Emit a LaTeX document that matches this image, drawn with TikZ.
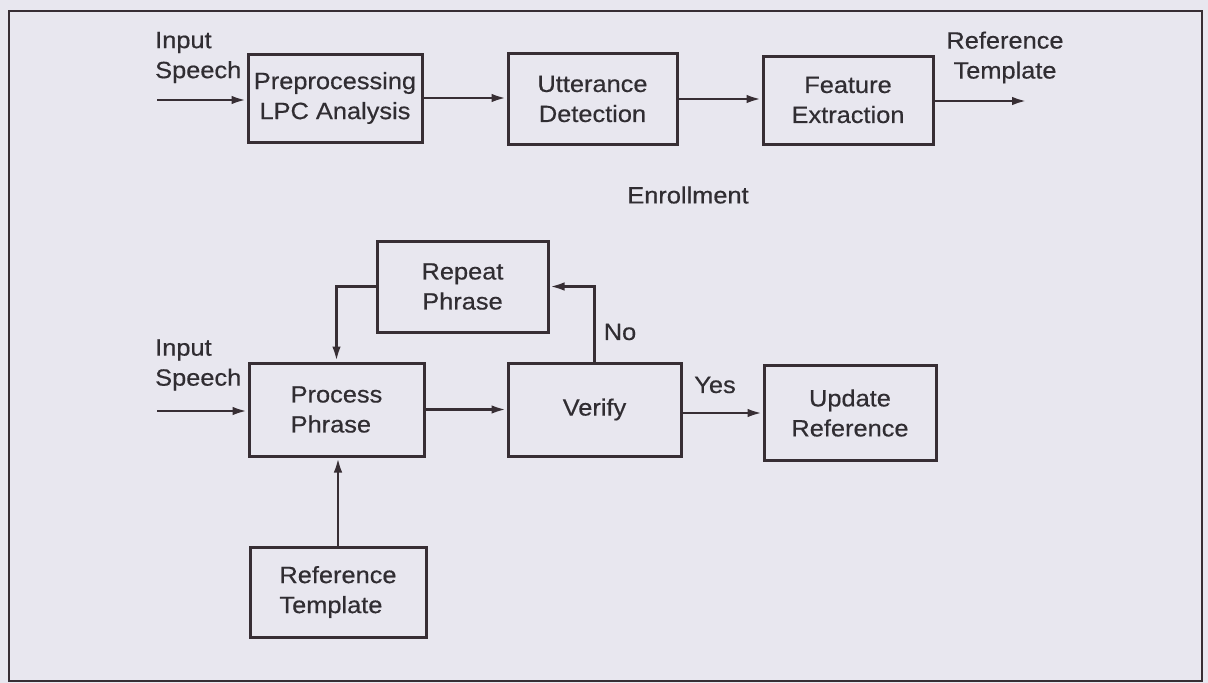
\documentclass[tikz,border=0pt]{standalone}
\usepackage{fontspec}
\setmainfont{Liberation Sans}[FakeStretch=1.08,FakeBold=0.5]
\usetikzlibrary{arrows.meta}
\definecolor{paper}{RGB}{232,231,239}
\definecolor{ink}{RGB}{55,46,52}
\definecolor{txt}{RGB}{48,45,50}
\begin{document}
\begin{tikzpicture}[x=1pt,y=-1pt,
  lbl/.style={text=txt, font=\fontsize{23.5}{30}\selectfont, inner sep=0pt, align=center},
  box/.style={lbl, draw=ink, line width=3pt},
  flow/.style={draw=ink, line width=2.8pt, -{Latex[length=15pt,width=8.5pt]}}
]
% page and frame
\useasboundingbox (0,0) rectangle (1208,683);
\fill[paper] (0,0) rectangle (1208,683);
\draw[ink, line width=1.8pt] (9,11) rectangle (1202,681);

% enrollment chain
\node[box, minimum width=174, minimum height=88] (pre)  at (335,98)   {Preprocessing\\LPC Analysis};
\node[box, minimum width=169, minimum height=91] (utt)  at (592.5,99) {Utterance\\Detection};
\node[box, minimum width=170, minimum height=88] (feat) at (848,100)  {Feature\\Extraction};

\node[lbl, anchor=west, align=left] (inA) at (155,57.5) {Input\\Speech};
\node[lbl] (refout) at (1005,57.5) {Reference\\Template};
\node[lbl] (enr) at (688,195) {Enrollment};

\coordinate (in1) at (157,100);
\coordinate (out1) at (1027,101);
\draw[flow] (in1) -- (in1 -| pre.west);
\draw[flow] (pre.east) -- (pre.east -| utt.west);
\draw[flow] (utt.east) -- (utt.east -| feat.west);
\draw[flow] (feat.east |- out1) -- (out1);

% verification loop
\node[box, minimum width=171, minimum height=91] (rep)  at (462.5,286.5) {Repeat\\Phrase};
\node[box, minimum width=175, minimum height=93, align=left] (proc) at (336.5,409.5) {Process\\Phrase};
\node[box, minimum width=173, minimum height=93] (ver)  at (594.5,409.5) {Verify};
\node[box, minimum width=172, minimum height=95] (upd)  at (850,413)     {Update\\Reference};
\node[box, minimum width=176, minimum height=90, align=left] (reft) at (338,592) {Reference\\Template};

\node[lbl, anchor=west, align=left] (inB) at (155,365) {Input\\Speech};
\node[lbl] (no)  at (620,332) {No};
\node[lbl] (yes) at (715,385) {Yes};

\coordinate (in2) at (157,411);
\draw[flow] (in2) -- (in2 -| proc.west);
\draw[flow] (proc.east) -- (proc.east -| ver.west);
\draw[flow] (ver.east |- upd.west) -- (upd.west);
\draw[flow] (reft.north) -- (reft.north |- proc.south);
\draw[flow] (rep.west) -| (proc.north);
\draw[flow] (ver.north) |- (rep.east);
\end{tikzpicture}
\end{document}
